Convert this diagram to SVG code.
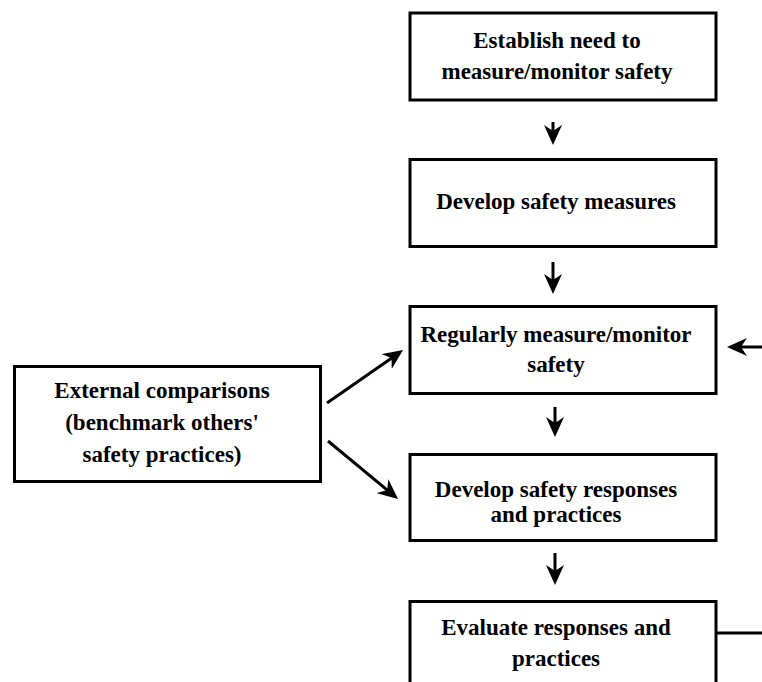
<svg xmlns="http://www.w3.org/2000/svg" width="762" height="682" viewBox="0 0 762 682">
<style>
.box{fill:#fff;stroke:#000;stroke-width:3}
.t{font-family:"Liberation Serif","Times New Roman",serif;font-weight:bold;font-size:23px;fill:#000;text-anchor:middle}
.c{stroke:#000;stroke-width:3;fill:none}
.a{marker-end:url(#ah)}
</style>
<defs>
<marker id="ah" viewBox="0 0 20 18" refX="8" refY="9" markerWidth="20" markerHeight="18" markerUnits="userSpaceOnUse" orient="auto">
<path d="M0,0 L20,9 L0,18 L6,9 z" fill="#000"/>
</marker>
</defs>
<rect width="762" height="682" fill="#fff"/>
<g id="n1"><rect class="box" x="410" y="13" width="306" height="87"/>
<text class="t" x="557" y="48">Establish need to</text>
<text class="t" x="557" y="79">measure/monitor safety</text></g>
<g id="n2"><rect class="box" x="410" y="159.5" width="306" height="87"/>
<text class="t" x="556" y="209">Develop safety measures</text></g>
<g id="n3"><rect class="box" x="410" y="306.5" width="306" height="87"/>
<text class="t" x="556" y="342">Regularly measure/monitor</text>
<text class="t" x="556" y="372">safety</text></g>
<g id="n4"><rect class="box" x="410" y="454.5" width="306" height="86"/>
<text class="t" x="556" y="497">Develop safety responses</text>
<text class="t" x="556" y="522">and practices</text></g>
<g id="n5"><rect class="box" x="410" y="601.5" width="306" height="100"/>
<text class="t" x="556" y="635">Evaluate responses and</text>
<text class="t" x="556" y="666">practices</text></g>
<g id="n6"><rect class="box" x="14.5" y="366.5" width="306" height="115"/>
<text class="t" x="162" y="398">External comparisons</text>
<text class="t" x="162" y="430">(benchmark others'</text>
<text class="t" x="162" y="462">safety practices)</text></g>
<g id="connectors">
<line class="c a" x1="553" y1="122" x2="553" y2="133"/>
<line class="c a" x1="553" y1="262" x2="553" y2="282"/>
<line class="c a" x1="555" y1="407" x2="555" y2="425"/>
<line class="c a" x1="555" y1="553" x2="555" y2="573"/>
<line class="c a" x1="762" y1="347" x2="739" y2="347"/>
<line class="c a" x1="327" y1="403" x2="393.2" y2="356.9"/>
<line class="c a" x1="328" y1="441" x2="388.8" y2="491.3"/>
<line class="c" x1="717" y1="633" x2="762" y2="633"/>
</g>
</svg>
